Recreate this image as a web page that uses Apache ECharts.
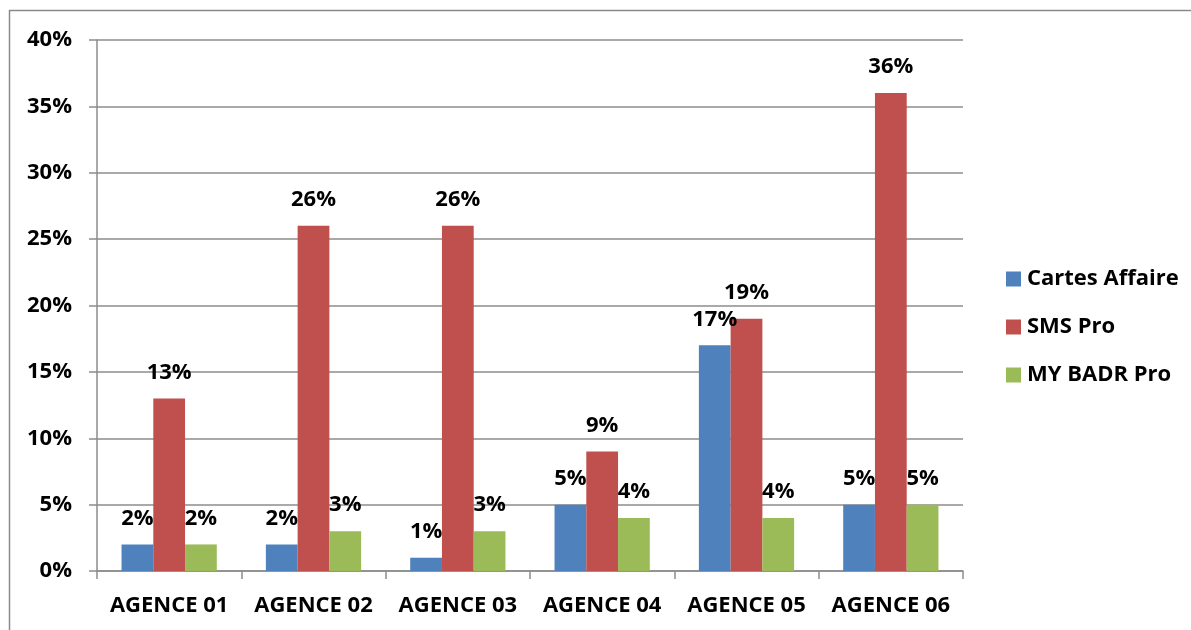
<!DOCTYPE html>
<html>
<head>
<meta charset="utf-8">
<script src="https://cdn.jsdelivr.net/npm/echarts@6/dist/echarts.min.js"></script>
<style>
  html, body { margin: 0; padding: 0; background: #fff; }
  #chart { width: 1191px; height: 630px; }
</style>
</head>
<body>
<div id="chart"></div>
<script>
// Share of each product per agency (percent)
const agencies = ['AGENCE 01', 'AGENCE 02', 'AGENCE 03', 'AGENCE 04', 'AGENCE 05', 'AGENCE 06'];
const cartesAffaire = [2, 2, 1, 5, 17, 5];
const smsPro = [13, 26, 26, 9, 19, 36];
const myBadrPro = [2, 3, 3, 4, 4, 5];
const seriesNames = ['Cartes Affaire', 'SMS Pro', 'MY BADR Pro'];
const seriesColors = ['#4F81BD', '#C0504D', '#9BBB59'];

const FONT = '"Open Sans", Lato, sans-serif';
const gridColor = '#8c8c8c';

function barSeries(name, data, color) {
  return {
    name: name,
    type: 'bar',
    data: data,
    barGap: '0%',
    barCategoryGap: '34%',
    itemStyle: { color: color },
    label: {
      show: true,
      position: 'top',
      distance: 14,
      formatter: p => p.value + '%',
      color: '#000',
      fontFamily: FONT,
      fontWeight: 'bold',
      fontSize: 22,
      lineHeight: 24
    }
  };
}

const chart = echarts.init(document.getElementById('chart'), null, { renderer: 'canvas' });
chart.setOption({
  animation: false,
  backgroundColor: '#fff',
  graphic: [{
    type: 'rect',
    shape: { x: 9.5, y: 10.5, width: 1200, height: 700 },
    style: { fill: 'none', stroke: '#8a8a8a', lineWidth: 1.5 },
    silent: true,
    z: -1
  }],
  grid: { left: 97, right: 228, top: 40, bottom: 59 },
  legend: {
    orient: 'vertical',
    left: 1001,
    top: 262,
    itemWidth: 15,
    itemHeight: 15,
    itemGap: 24,
    icon: 'rect',
    data: seriesNames,
    textStyle: { fontFamily: FONT, fontWeight: 'bold', fontSize: 22, lineHeight: 24, color: '#000', padding: [0, 0, 0, 1] }
  },
  xAxis: {
    type: 'category',
    data: agencies,
    boundaryGap: true,
    axisLine: { lineStyle: { color: gridColor, width: 1.5 } },
    axisTick: { show: true, length: 8, alignWithLabel: false, lineStyle: { color: gridColor, width: 1.5 } },
    axisLabel: { margin: 23, color: '#000', fontFamily: FONT, fontWeight: 'bold', fontSize: 22, lineHeight: 24, interval: 0 }
  },
  yAxis: {
    type: 'value',
    min: 0,
    max: 40,
    interval: 5,
    axisLine: { show: true, lineStyle: { color: gridColor, width: 1.5 } },
    axisTick: { show: true, length: 8, lineStyle: { color: gridColor, width: 1.5 } },
    splitLine: { show: true, lineStyle: { color: gridColor, width: 1.5 } },
    axisLabel: { margin: 25, formatter: '{value}%', color: '#000', fontFamily: FONT, fontWeight: 'bold', fontSize: 22 }
  },
  series: [
    barSeries(seriesNames[0], cartesAffaire, seriesColors[0]),
    barSeries(seriesNames[1], smsPro, seriesColors[1]),
    barSeries(seriesNames[2], myBadrPro, seriesColors[2])
  ]
});
</script>
</body>
</html>
